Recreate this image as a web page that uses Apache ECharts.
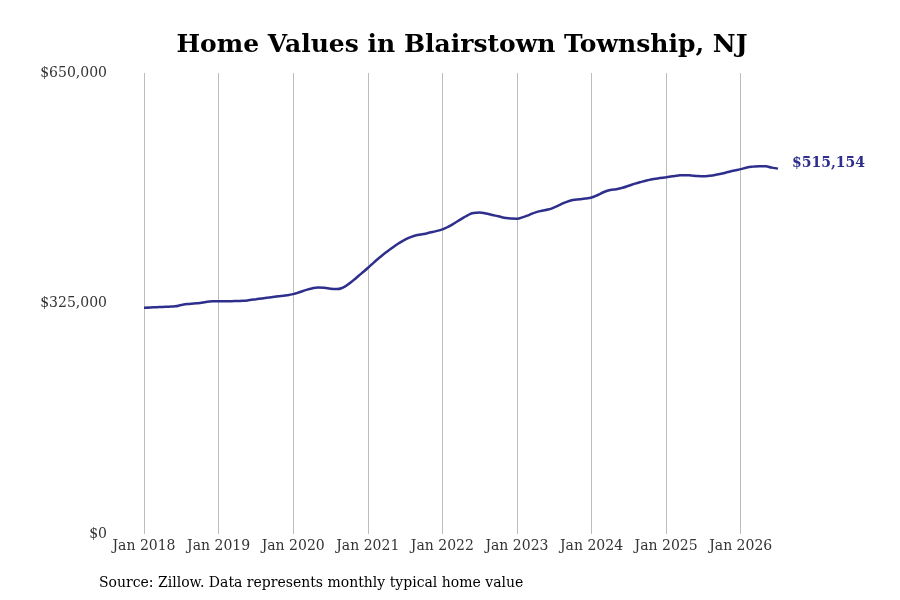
<!DOCTYPE html>
<html lang="en">
<head>
<meta charset="utf-8" />
<title>Home Values in Blairstown Township, NJ</title>
<style>
  html, body { margin: 0; padding: 0; background: #fff; }
  #main { width: 900px; height: 600px; }
</style>
</head>
<body>
<div id="main"></div>
<script src="https://cdn.jsdelivr.net/npm/echarts@6/dist/echarts.min.js"></script>
<script>
// monthly typical home value, Jan 2018 .. Jul 2026
var years = [2018, 2019, 2020, 2021, 2022, 2023, 2024, 2025, 2026];
var monthNames = ['Jan', 'Feb', 'Mar', 'Apr', 'May', 'Jun', 'Jul', 'Aug', 'Sep', 'Oct', 'Nov', 'Dec'];
var values2018 = [319000, 319300, 319800, 320200, 320500, 321000, 322800, 324200, 325000, 325800, 327200, 328000];
var values2019 = [328200, 328300, 328300, 328500, 328800, 329800, 331000, 332200, 333300, 334500, 335500, 336500];
var values2020 = [338200, 340800, 343800, 346200, 347400, 347200, 345800, 345300, 347500, 353000, 360000, 367500];
var values2021 = [375000, 383000, 390500, 397500, 404000, 410000, 415000, 419000, 421500, 423000, 425000, 427000];
var values2022 = [429500, 433500, 438500, 444000, 449000, 452500, 453200, 451800, 449800, 448000, 446000, 444800];
var values2023 = [444600, 446800, 450000, 453500, 455800, 457500, 460500, 464500, 468300, 470800, 472000, 473000];
var values2024 = [474500, 478000, 482200, 485000, 486200, 488200, 491000, 494000, 496500, 498700, 500500, 501800];
var values2025 = [503000, 504300, 505500, 506000, 505600, 504800, 504500, 505200, 506500, 508300, 510500, 512500];
var values2026 = [514500, 516800, 518000, 518600, 518400, 516600, 515154];
var yTicks = [0, 325000, 650000];

var values = [].concat(values2018, values2019, values2020, values2021, values2022,
                       values2023, values2024, values2025, values2026);
var months = [];
years.forEach(function (y) {
    monthNames.forEach(function (m) { months.push(m + ' ' + y); });
});
months = months.slice(0, values.length);

function money(v) {
    return '$' + Math.round(v).toString().replace(/\B(?=(\d{3})+(?!\d))/g, ',');
}

var serif = 'DejaVu Serif';
var lineColor = '#2e2f8c';

var myChart = echarts.init(document.getElementById('main'));
var option = {
    animation: false,
    textStyle: { fontFamily: serif },
    title: {
        text: 'Home Values in Blairstown Township, NJ',
        left: 457,
        textAlign: 'center',
        top: 28,
        textStyle: { fontFamily: serif, fontSize: 25, fontWeight: 'bold', color: '#000' }
    },
    grid: { left: 144, right: 122, top: 73, bottom: 66 },
    xAxis: {
        type: 'category',
        data: months,
        boundaryGap: false,
        axisLine: { show: false },
        axisTick: { show: false },
        axisLabel: {
            interval: function (i) { return i % 12 === 0; },
            color: '#333',
            fontFamily: serif,
            fontSize: 14,
            margin: 5
        },
        splitLine: {
            show: true,
            interval: function (i) { return i % 12 === 0; },
            lineStyle: { color: '#bdbdbd', width: 1 }
        }
    },
    yAxis: {
        type: 'value',
        min: yTicks[0],
        max: yTicks[2],
        interval: yTicks[1],
        axisLine: { show: false },
        axisTick: { show: false },
        splitLine: { show: false },
        axisLabel: {
            formatter: money,
            color: '#333',
            fontFamily: serif,
            fontSize: 14,
            margin: 37,
            padding: [4, 0, 0, 0]
        }
    },
    series: [{
        type: 'line',
        data: values,
        smooth: true,
        showSymbol: false,
        lineStyle: { color: lineColor, width: 2.5 },
        endLabel: {
            show: true,
            formatter: function (p) { return money(p.value); },
            color: lineColor,
            fontFamily: serif,
            fontWeight: 'bold',
            fontSize: 14,
            distance: 14,
            offset: [0, -5]
        }
    }],
    graphic: [{
        type: 'text',
        left: 99,
        top: 576,
        style: {
            text: 'Source: Zillow. Data represents monthly typical home value',
            fill: '#000',
            font: '14px "DejaVu Serif"'
        }
    }]
};
myChart.setOption(option);
</script>
</body>
</html>
